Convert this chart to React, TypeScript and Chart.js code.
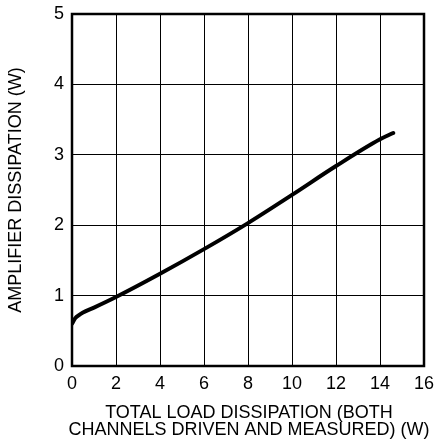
import React, { useEffect, useRef } from "react";
import { Chart, registerables } from "chart.js";

Chart.register(...registerables);

const loadDissipation = [0, 0.15, 0.3, 0.5, 1, 2, 4, 6, 8, 10, 12, 14, 14.6];
const ampDissipation = [0.6, 0.68, 0.72, 0.76, 0.83, 0.98, 1.31, 1.66, 2.03, 2.43, 2.84, 3.22, 3.31];
const xTitle = ["TOTAL LOAD DISSIPATION (BOTH", "CHANNELS DRIVEN AND MEASURED) (W)"];
const yTitle = "AMPLIFIER DISSIPATION (W)";

const FONT = "'Liberation Sans', Arial, sans-serif";

function zeroPad(s: any) {
  s.paddingTop = 0;
  s.paddingBottom = 0;
  s.paddingLeft = 0;
  s.paddingRight = 0;
}

export default function App() {
  const ref = useRef<HTMLCanvasElement>(null);
  useEffect(() => {
    if (!ref.current) return;
    const frame = {
      id: "frame",
      afterDraw(chart: any) {
        const { ctx, chartArea: a } = chart;
        ctx.save();
        ctx.strokeStyle = "#000";
        ctx.lineWidth = 2.5;
        ctx.strokeRect(a.left, a.top, a.right - a.left, a.bottom - a.top);
        ctx.fillStyle = "#000";
        ctx.font = `18px ${FONT}`;
        ctx.textAlign = "center";
        ctx.textBaseline = "middle";
        ctx.fillText(xTitle[0], 249, 413.5);
        ctx.fillText(xTitle[1], 249, 430.5);
        ctx.save();
        ctx.translate(16.5, 190);
        ctx.rotate(-Math.PI / 2);
        ctx.fillText(yTitle, 0, 0);
        ctx.restore();
        ctx.restore();
      },
    };
    const chart = new Chart(ref.current, {
      type: "line",
      data: {
        datasets: [
          {
            data: loadDissipation.map((x, i) => ({ x, y: ampDissipation[i] })),
            borderColor: "#000",
            borderWidth: 4,
            pointRadius: 0,
            cubicInterpolationMode: "monotone",
            borderCapStyle: "round",
          },
        ],
      },
      options: {
        animation: false,
        responsive: false,
        layout: { autoPadding: false, padding: { top: 14, right: 11, left: 0, bottom: 0 } },
        plugins: { legend: { display: false }, tooltip: { enabled: false } },
        scales: {
          x: {
            type: "linear",
            min: 0,
            max: 16,
            ticks: { stepSize: 2, color: "#000", padding: 7, font: { family: FONT, size: 18 } },
            grid: { color: "#000", lineWidth: 1, drawTicks: false },
            border: { display: false },
            afterFit(s: any) {
              s.height = 79;
              zeroPad(s);
            },
          },
          y: {
            min: 0,
            max: 5,
            ticks: { stepSize: 1, color: "#000", padding: 8, font: { family: FONT, size: 18 } },
            grid: { color: "#000", lineWidth: 1, drawTicks: false },
            border: { display: false },
            afterFit(s: any) {
              s.width = 72;
              zeroPad(s);
            },
          },
        },
      },
      plugins: [frame],
    } as any);
    return () => chart.destroy();
  }, []);
  return (
    <div style={{ position: "fixed", left: 0, top: 0, width: 435, height: 445, background: "#fff" }}>
      <canvas ref={ref} width={435} height={445} style={{ width: 435, height: 445 }} />
    </div>
  );
}
